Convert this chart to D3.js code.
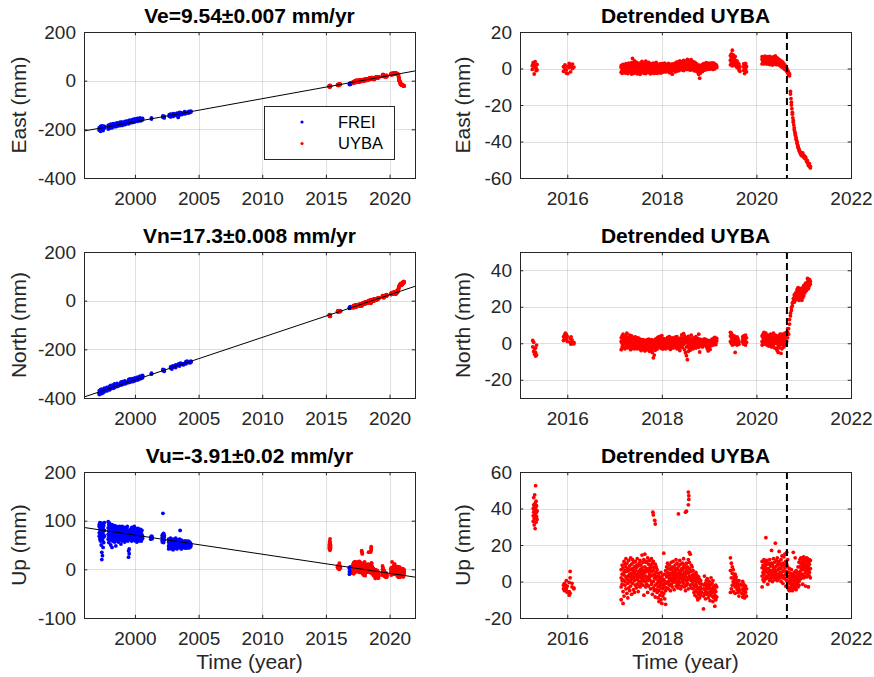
<!DOCTYPE html>
<html>
<head>
<meta charset="utf-8">
<script src="https://cdn.jsdelivr.net/npm/d3@7"></script>
<style>
  body { margin: 0; background: #fff; }
  svg { display: block; }
</style>
</head>
<body>
<svg id="fig" width="874" height="677"></svg>
<script>
// ---------- data ----------
// each row: [time, value, value, ...]  (several daily solutions stacked at one time)

// FREI raw positions (mm)
var freiEast = [
  [1997.2,-204,-193,-199],[1997.3,-208,-196,-188],[1997.4,-201,-192,-186],[1997.5,-198,-187,-205],
  [1997.6,-195,-188],[1997.9,-193,-184,-199],[1998.0,-190,-182,-196],[1998.1,-186,-193,-179],
  [1998.2,-188,-181,-194],[1998.3,-184,-177,-190],[1998.5,-183,-176,-189],[1998.6,-180,-174,-187],
  [1998.8,-178,-171,-185],[1998.9,-176,-183,-170],[1999.0,-178,-170,-184],[1999.2,-175,-168,-181],
  [1999.3,-172,-178,-166],[1999.5,-170,-164,-177],[1999.6,-168,-174,-162],[1999.8,-166,-172,-160],
  [1999.9,-164,-170,-159],[2000.0,-163,-169,-157],[2000.2,-161,-167,-155],[2000.3,-163,-157],
  [2000.4,-165,-159,-153],[2000.5,-158,-164],[2000.6,-161,-155],
  [2001.3,-158,-153],[2002.2,-150,-145],[2002.3,-147,-153],
  [2002.7,-146,-140],[2002.8,-143,-149,-138],[2002.9,-146,-140],[2003.0,-141,-147,-136],
  [2003.1,-143,-137],[2003.3,-139,-144,-134],[2003.4,-137,-151],[2003.5,-135,-141,-130],
  [2003.6,-137,-131],[2003.7,-134,-139],[2003.9,-131,-136,-127],[2004.0,-130,-135],
  [2004.2,-127,-133],[2004.3,-126,-131],[2004.4,-125,-129],
  [2016.85,-12,-16],[2016.9,-14,-10],[2016.95,-11,-15],[2017.0,-10]
];
var freiNorth = [
  [1997.2,-380,-370,-386],[1997.3,-376,-366,-383],[1997.4,-373,-381,-364],[1997.5,-370,-378],
  [1997.6,-367,-374,-360],[1997.8,-363,-371,-356],[1998.0,-359,-367,-352],[1998.1,-355,-362,-348],
  [1998.3,-354,-346,-360],[1998.4,-357,-349,-342],[1998.6,-346,-353,-340],[1998.7,-344,-351],
  [1998.9,-341,-347,-335],[1999.0,-339,-345,-333],[1999.2,-336,-342,-330],[1999.3,-334,-340],
  [1999.5,-331,-337,-325],[1999.6,-335,-328,-322],[1999.8,-327,-333,-320],[1999.9,-325,-331],
  [2000.0,-323,-329,-317],[2000.2,-320,-326,-314],[2000.3,-318,-323],[2000.4,-316,-321,-310],
  [2000.5,-314,-319],[2000.6,-312,-317,-307],
  [2001.3,-302,-298],[2002.2,-287,-282],[2002.3,-285,-290],
  [2002.8,-277,-272],[2002.9,-275,-270,-281],[2003.0,-273,-268],[2003.2,-269,-264,-275],
  [2003.4,-266,-261],[2003.5,-264,-269,-259],[2003.6,-262,-257],[2003.8,-259,-264],
  [2004.0,-256,-260,-251],[2004.1,-254,-249],[2004.3,-251,-256],[2004.4,-249,-253],
  [2016.85,-32,-28],[2016.9,-30,-26],[2016.95,-29,-25],[2017.0,-27]
];
var freiUp = [
  [1997.20,75,88,68,92],[1997.25,82,70,96,62],[1997.30,78,90,58,85],[1997.35,66,95,72,50],
  [1997.40,20,35,80,88],[1997.45,28,74,92,60],[1997.50,85,65,77,45],[1997.55,70,90,55],
  [1997.60,80,68,96],[1997.90,85,72,98,62],[1997.95,78,92,66,55],[1998.00,88,70,80,95],
  [1998.05,74,60,84],[1998.10,82,68,90,50],[1998.15,72,86,62],[1998.20,78,92,66,45],
  [1998.25,70,84,58],[1998.30,80,66,88,74],[1998.35,75,62,85],[1998.40,68,82,56,90],
  [1998.45,77,64,86],[1998.50,72,84,60,48],[1998.55,80,68,88],[1998.60,66,78,58,85],
  [1998.65,74,62,82],[1998.70,70,86,56,76],[1998.75,78,64,84],[1998.80,68,80,60,88],
  [1998.85,74,66,82],[1998.90,62,78,70,52],[1998.95,76,64,84],[1999.00,70,82,58,88],
  [1999.05,66,78,72],[1999.10,74,60,84,68],[1999.15,70,80,62],[1999.20,64,76,86,56],
  [1999.25,72,66,80],[1999.30,68,78,60,84],[1999.35,74,64,82],[1999.40,70,60,78,88],
  [1999.45,66,76,58],[1999.50,25,38,70,80],[1999.55,32,42,66,76],[1999.60,64,76,70],
  [1999.65,72,82,62,68],[1999.70,72,62,82],[1999.75,68,78,58,86],[1999.80,74,64,80],
  [1999.85,66,76,60,84],[1999.90,70,62,80],[1999.95,64,76,68,88],[2000.00,72,60,80],
  [2000.05,66,78,58,84],[2000.10,70,62,76],[2000.15,64,82,72,56],[2000.20,68,76,60],
  [2000.25,74,62,84,66],[2000.30,70,58,78],[2000.35,64,80,72,60],[2000.40,68,76,62],
  [2000.45,72,60,82,66],[2000.50,66,74,58],[2000.55,70,62,80],[2000.60,68,64],
  [2001.25,66,62],[2001.30,68,64],[2001.35,63,67],
  [2002.15,60,70,66,56],[2002.20,72,64,58,115],[2002.25,62,74,68,55],[2002.30,66,60,70],
  [2002.65,56,48,62,42],[2002.70,52,60,45],[2002.80,58,50,64,46],[2002.85,54,44,60],
  [2002.90,50,58,42,62],[2002.95,56,48,52],[2003.00,60,46,54,40],[2003.05,52,58,48],
  [2003.10,56,44,62,50],[2003.15,48,54,60],[2003.20,52,58,44,64],[2003.25,56,50,46],
  [2003.30,60,48,54,42],[2003.40,52,58,46],[2003.50,54,62,48],[2003.55,80,56,44,60],
  [2003.60,58,46,52],[2003.65,54,60,48,42],[2003.70,50,56,46],[2003.85,52,46,58],
  [2003.90,48,54,44,56],[2003.95,52,58,46],[2004.00,50,44,56,48],[2004.05,54,48,58],
  [2004.10,46,52,56,44],[2004.15,50,56,48],[2004.20,54,46,52,58],[2004.25,48,52,44],
  [2004.30,52,56,48],[2004.35,50,46,54],[2004.40,52,48],
  [2016.85,-5,2,-10,4],[2016.90,0,-8,3],[2016.95,-3,5,-7],[2017.00,-2,1]
];

// detrended UYBA (mm)
var eastDet = [
  [2015.26,1.5,-0.5],[2015.28,3.2,2.5],[2015.30,0.8,-3.0],[2015.32,1.9,3.8],
  [2015.34,-1.2,0.3],[2015.36,2.2,-0.8],
  [2015.92,1.0,-1.5],[2015.95,2.0,0.2],[2015.98,-2.5,-0.8],[2016.01,1.2,-2.8],
  [2016.04,2.8,0.5],[2016.07,-1.8,1.5],[2016.11,0.0,2.4],[2016.14,0.8],
  [2017.14,-2.0,0.5,1.5],[2017.16,-1.0,1.8,-2.6],[2017.18,0.3,-1.8,2.2],[2017.20,-0.5,1.0,-2.2],
  [2017.22,1.4,-1.2,0.2],[2017.24,-2.5,0.8,2.6],[2017.26,0.0,-1.5,1.2],[2017.28,2.0,-0.8,-2.8],
  [2017.30,0.6,-2.0,3.0],[2017.32,-1.0,1.5,0.1],[2017.34,2.4,-2.3,0.9],[2017.36,-0.6,3.2,-3.0],
  [2017.38,1.2,-1.6,5.5],[2017.40,0.4,-2.7,2.8],[2017.42,-1.2,1.9,4.2],[2017.44,0.8,-2.2,2.5],
  [2017.46,-0.3,3.5,-1.6],[2017.48,1.6,-2.9,0.2],[2017.50,-1.4,2.2,0.9],[2017.52,0.3,-2.4,3.0],
  [2017.54,1.9,-0.9,-3.2],[2017.56,-1.8,0.7,2.6],[2017.58,0.0,3.9,-2.0],[2017.60,1.3,-1.2,2.1],
  [2017.62,-2.6,0.5,1.6],[2017.64,2.8,-0.4,-1.5],[2017.66,0.9,-2.8,4.0],[2017.68,-0.8,1.7,-2.1],
  [2017.70,2.3,-1.3,0.4],[2017.72,-2.2,0.8,3.4],[2017.74,1.0,-1.9,2.0],[2017.76,-0.2,2.6,-2.9],
  [2017.78,1.4,-1.0,0.3],[2017.80,-2.4,2.0,0.8],[2017.82,0.6,-1.6,2.9],[2017.84,-1.1,1.2,-2.7],
  [2017.86,2.2,-0.5,0.0],[2017.88,-1.8,1.5,3.3],[2017.90,0.4,-2.6,1.8],[2017.92,1.9,-1.0,-0.3],
  [2017.94,-2.2,0.9,2.4],[2017.96,0.2,-1.7,1.3],[2017.98,2.6,-0.6,-2.5],[2018.00,-1.3,1.1,0.5],
  [2018.02,0.8,-2.0,2.7],[2018.04,-0.4,1.9,-1.4],[2018.06,1.5,-1.1,3.0],[2018.08,-1.9,0.6,2.2],
  [2018.10,0.9,-0.7,1.7],[2018.12,2.1,-1.6,0.2],[2018.14,-0.9,1.4,2.8],[2018.16,0.5,-2.3,1.9],
  [2018.18,1.8,-0.2,-1.7],[2018.20,-1.5,2.4,0.7],[2018.22,0.2,1.3,-3.1],[2018.24,2.5,-0.9,1.0],
  [2018.26,-1.0,0.4,2.0],[2018.28,1.2,3.0,-1.9],[2018.30,0.0,2.2,-0.8],[2018.32,1.7,-1.4,3.6],
  [2018.34,0.6,2.8,-0.5],[2018.36,3.2,1.0,-1.2],[2018.38,-0.3,2.0,4.1],[2018.40,1.4,3.3,0.1],
  [2018.42,2.6,-0.7,1.8],[2018.44,0.3,3.8,1.1],[2018.46,2.0,-1.1,4.5],[2018.48,1.2,3.0,-0.2],
  [2018.50,0.7,2.4,4.0],[2018.52,3.5,-0.6,1.6],[2018.54,1.0,2.9,5.0],[2018.56,-0.4,1.9,3.3],
  [2018.58,2.7,0.5,4.4],[2018.60,1.5,-0.9,3.1],[2018.62,4.8,0.9,2.2],[2018.64,-0.5,2.6,1.3],
  [2018.66,3.8,0.2,1.9],[2018.68,1.1,-1.2,2.8],[2018.70,0.3,3.4,-0.6],[2018.72,2.0,-1.4,1.0],
  [2018.74,-0.8,1.6,2.5],[2018.76,0.9,-2.1,0.4],[2018.78,-1.5,1.2,-3.2],[2018.80,0.2,-5.3,1.9],
  [2018.82,-2.4,0.7,-0.8],[2018.84,1.3,-1.0,0.3],[2018.86,0.5,2.1,-1.6],[2018.88,-0.2,1.0,2.6],
  [2018.90,1.8,0.0,-0.9],[2018.92,0.7,2.8,1.3],[2018.94,-0.6,1.6,3.2],[2018.96,2.2,0.3,1.0],
  [2018.98,0.9,2.5,-0.4],[2019.00,1.5,3.0,0.2],[2019.02,-0.3,1.9,2.4],[2019.04,2.6,0.6,1.2],
  [2019.06,0.1,1.8,3.1],[2019.08,1.2,-0.5,2.0],[2019.10,2.9,0.8,1.5],[2019.12,0.4,1.6,-0.2],
  [2019.14,1.9,0.9,2.3],[2019.16,0.6,1.4],
  [2019.45,2.0,4.5,7.0],[2019.47,3.2,8.0,5.5],[2019.49,1.5,6.2,10.0],[2019.51,4.0,2.5,7.5],
  [2019.53,3.0,5.8,1.8],[2019.55,4.6,2.2,6.6],[2019.57,1.2,3.6],[2019.59,2.8,0.5,4.2],
  [2019.61,1.6,3.0],[2019.63,0.2,2.4,-0.8],[2019.65,1.0,-1.5],
  [2019.73,0.8,2.5,-1.0],[2019.75,2.0,-2.8,1.4],[2019.77,-0.5,2.8,0.3],[2019.79,1.1,-1.8],
  [2020.12,2.5,5.0,6.5],[2020.14,4.0,3.0,6.2],[2020.16,5.4,2.6,4.4],[2020.18,3.2,6.8,4.9],
  [2020.20,5.8,2.9,4.0],[2020.22,3.6,6.0,2.4],[2020.24,4.8,3.1,6.5],[2020.26,2.7,5.2,4.1],
  [2020.28,6.6,3.8,2.2],[2020.30,4.5,5.9,3.0],[2020.32,2.6,4.2,6.1],[2020.34,5.0,3.4,1.9],
  [2020.36,6.3,4.0,2.8],[2020.38,3.0,5.5,4.6],[2020.40,4.9,2.4,6.9],[2020.42,3.7,5.6,2.1],
  [2020.44,4.4,3.2,5.8],[2020.46,2.5,4.7],[2020.48,3.9,1.8,5.0],[2020.50,3.0,4.5],
  [2020.52,2.2,3.6,1.0],[2020.54,3.9,2.4],[2020.56,1.6,3.2,0.4],[2020.58,2.6,1.0],
  [2020.60,0.5,1.9,-0.5],[2020.62,1.2,-0.4],[2020.64,0.2,-1.5],[2020.66,-1.0,-2.5],
  [2020.68,-2.0,-3.5],[2020.70,-3.0,-4.0],
  [2020.72,-12.5,-14.0],[2020.73,-16.5],[2020.74,-18.5,-20.0],[2020.75,-22.0],
  [2020.76,-24.0,-25.0],[2020.77,-27.0],[2020.78,-28.5,-29.5],[2020.79,-31.0],
  [2020.80,-32.5,-33.5],[2020.81,-34.5],[2020.82,-35.5,-36.5],[2020.83,-37.0],
  [2020.84,-38.0,-38.8],[2020.85,-39.5],[2020.86,-40.2,-41.0],[2020.87,-41.8],
  [2020.88,-42.5,-43.2],[2020.89,-43.8],[2020.90,-44.2,-45.0],[2020.92,-45.5,-46.2],
  [2020.94,-46.0,-47.2],[2020.96,-46.5,-47.8],[2020.98,-47.0,-46.2],[2021.00,-47.6,-48.5],
  [2021.02,-48.0,-49.2],[2021.04,-49.5,-48.6],[2021.06,-50.2,-51.0],[2021.08,-51.5,-50.5],
  [2021.10,-52.5,-53.2],[2021.12,-53.5,-52.2],[2021.14,-54.5,-53.6]
];
var northDet = [
  [2015.27,-2.0,1.5],[2015.29,-4.5,0.5],[2015.31,-3.0,-6.0],[2015.33,-5.0,-2.5,-7.0],[2015.35,-6.5,-1.0],
  [2015.92,1.5,3.5],[2015.94,4.5,2.0],[2015.96,5.5,3.0],[2015.98,2.5,4.8],[2016.00,1.0,3.8],
  [2016.06,2.5,0.5],[2016.08,3.5,-0.5],[2016.10,0.2,1.8],[2016.14,-0.3,0.4],
  [2017.14,-3.5,1.0,3.0],[2017.16,0.0,4.0,-2.0],[2017.18,2.5,-1.0,5.0],[2017.20,-2.5,1.5,3.5],
  [2017.22,0.5,-3.0,2.0],[2017.24,4.0,-0.5,1.0],[2017.26,-1.5,2.5,5.5],[2017.28,1.0,-2.5,3.0],
  [2017.30,3.5,0.0,-1.0],[2017.32,-2.0,2.0,4.5],[2017.34,0.5,-3.5,1.5],[2017.36,2.8,-1.2,4.0],
  [2017.38,-0.5,1.8,-2.8],[2017.40,3.2,0.2,-1.8],[2017.42,1.2,-3.0,2.4],[2017.44,-1.0,3.5,0.6],
  [2017.46,2.0,-2.2,0.0],[2017.48,-3.0,1.0,2.8],[2017.50,0.8,-1.6,3.0],[2017.52,-2.4,1.4,-0.4],
  [2017.54,0.2,-3.2,2.2],[2017.56,-1.2,1.8,-4.0],[2017.58,1.0,-2.0,0.4],[2017.60,-3.4,0.0,2.0],
  [2017.62,-0.8,1.6,-2.6],[2017.64,0.6,-4.2,-1.4],[2017.66,-2.2,1.2,0.0],[2017.68,1.8,-1.0,-3.6],
  [2017.70,-0.4,-2.8,1.0],[2017.72,-3.0,0.8,2.2],[2017.74,0.2,-1.8,-4.4],[2017.76,-1.4,1.4,-2.4],
  [2017.78,0.6,-3.6,2.0],[2017.80,-5.0,-1.0,1.2],[2017.82,-2.6,0.2,-8.0],[2017.84,-6.5,-0.6,1.6],
  [2017.86,-1.8,2.2,-3.8],[2017.88,0.0,-2.6,1.0],[2017.90,2.8,-1.2,-3.2],[2017.92,-0.4,1.6,3.4],
  [2017.94,-2.0,0.6,2.4],[2017.96,1.4,-1.2,3.8],[2017.98,-2.8,0.2,2.0],[2018.00,1.0,-1.6,4.2],
  [2018.02,-3.2,0.4,2.6],[2018.04,1.8,-0.8,-2.4],[2018.06,-1.4,2.4,0.0],[2018.08,0.6,-3.0,1.6],
  [2018.10,-0.6,2.0,-2.0],[2018.12,1.2,-1.4,3.2],[2018.14,-2.6,0.2,1.8],[2018.16,0.8,-1.8,3.6],
  [2018.18,-1.0,2.6,-3.4],[2018.20,1.6,-0.2,-2.2],[2018.22,-1.8,0.8,3.0],[2018.24,2.2,-2.6,0.4],
  [2018.26,-0.4,1.4,-1.6],[2018.28,3.4,-1.2,0.6],[2018.30,-2.2,1.0,2.8],[2018.32,0.0,-3.0,3.6],
  [2018.34,1.8,-1.6,-0.4],[2018.36,-2.6,2.4,0.8],[2018.38,1.2,-0.8,-4.0],[2018.40,3.0,0.2,-2.0],
  [2018.42,-1.2,1.6,4.6],[2018.44,0.6,-2.4,2.8],[2018.46,5.2,-0.6,1.4],[2018.48,-3.6,2.0,4.0],
  [2018.50,0.2,-5.2,3.2],[2018.52,-2.0,1.4,-6.8],[2018.54,-9.0,0.4,2.6],[2018.56,-4.4,-1.2,3.8],
  [2018.58,1.0,-2.8,0.0],[2018.60,-0.8,2.4,-3.8],[2018.62,1.6,-1.6,4.4],[2018.64,-2.4,0.6,2.0],
  [2018.66,3.0,-0.4,-3.0],[2018.68,0.8,-2.0,1.8],[2018.70,-1.0,2.8,0.4],[2018.72,1.4,-2.6,3.6],
  [2018.74,-0.2,1.2,-1.6],[2018.76,2.6,-1.0,0.6],[2018.78,-2.2,0.4,5.0],[2018.80,1.0,-4.8,2.2],
  [2018.82,-0.6,1.8,0.0],[2018.84,2.0,-1.4,0.8],[2018.86,0.4,-2.0,1.6],[2018.90,0.0,2.4,-1.0],
  [2018.92,1.2,-0.6],[2018.94,-1.8,0.8,2.0],[2018.96,0.2,-3.0],[2018.98,1.4,-1.2,-4.2],
  [2019.00,0.6,-2.4],[2019.02,-0.4,1.6,-3.4],[2019.04,1.0,-1.4],[2019.06,2.2,-0.2,0.8],
  [2019.08,-1.0,1.4],[2019.10,0.4,2.8,-0.6],[2019.12,1.6,3.2],[2019.14,0.2,2.0,-0.8],[2019.16,1.2,2.6],
  [2019.45,1.0,4.0,6.0],[2019.47,3.0,0.0,5.5],[2019.49,2.0,-1.0,4.5],[2019.51,0.5,3.5,1.5],
  [2019.53,2.5,-0.5,4.0],[2019.55,-5.0,1.0,3.0],[2019.57,0.0,2.0],[2019.59,1.5,-1.0,3.5],
  [2019.61,0.5,2.5],[2019.63,-0.5,1.0],
  [2019.71,2.0,0.5,3.5],[2019.73,4.0,1.0,-0.5],[2019.75,2.5,0.0,3.0],[2019.77,1.0,4.5,-1.0],[2019.79,3.0,0.5],
  [2020.12,1.0,4.0,-1.0],[2020.14,3.0,0.0,5.0],[2020.16,2.0,6.0,-0.5],[2020.18,4.5,1.5,3.0],
  [2020.20,0.5,3.5,5.5],[2020.22,2.5,-1.0,4.0],[2020.24,1.0,3.0,0.0],[2020.26,4.5,2.0,-1.5],
  [2020.28,0.5,3.5,1.5],[2020.30,2.5,-0.5,5.0],[2020.32,1.5,4.0,-2.0],[2020.34,3.0,0.0,2.0],
  [2020.36,-1.0,5.5,1.0],[2020.38,2.0,-2.5,3.5],[2020.40,0.5,4.5,1.5],[2020.42,-3.0,2.0,0.0],
  [2020.44,1.5,-4.0,3.0],[2020.46,-1.5,4.0,-5.0],[2020.48,0.5,2.5,-2.5],[2020.50,5.0,-1.0,1.5],
  [2020.52,-5.5,0.0,3.5],[2020.54,2.0,-3.0,5.0],[2020.56,-1.0,3.0,0.5],[2020.58,1.5,-2.0,4.0],
  [2020.60,0.0,2.5,5.5],[2020.62,-1.0,3.5],[2020.64,1.0,6.0],
  [2020.66,3.0,6.0,8.0],[2020.68,8.0,5.0],[2020.70,10.5,13.0],[2020.72,15.0,16.5],
  [2020.74,18.0,19.5],[2020.76,20.5,22.0],[2020.78,23.0,24.5],[2020.80,25.0,26.5,22.5],
  [2020.82,25.0,27.0,23.5],[2020.84,26.5,28.0,24.5],[2020.86,27.5,29.5,25.0],[2020.88,28.0,30.5,24.0],
  [2020.90,26.5,29.0,23.5],[2020.92,25.0,28.5,30.0],[2020.94,24.5,27.0,29.5],[2020.96,26.0,23.5,28.0],
  [2020.98,27.5,25.0,30.5],[2021.00,29.0,26.0,31.5],[2021.02,30.0,27.5,32.0],[2021.04,28.5,31.0,33.0],
  [2021.06,30.5,32.5,29.0],[2021.08,33.5,31.0,35.5],[2021.10,32.0,34.5,30.0],[2021.12,33.0,35.0,31.5],
  [2021.14,32.5,34.0]
];
var upDet = [
  [2015.28,36.0,40.0,33.0],[2015.29,42.0,38.0,46.0],[2015.30,34.5,39.5,31.0],[2015.31,41.0,36.5,47.5],
  [2015.32,38.0,43.0,29.0],[2015.33,35.0,40.5,52.5],[2015.34,37.5,32.5,44.0],[2015.35,39.0,35.5,41.5],
  [2015.36,38.5,34.0],
  [2015.92,-2.0,-4.0],[2015.94,-1.0,-3.5,-5.0],[2015.96,-3.0,-2.0],[2015.98,-5.0,-4.0,0.5],
  [2016.00,-6.0,-2.5],[2016.04,-0.5,-7.5,-5.5],[2016.06,5.5,2.0,-6.5],[2016.10,-1.0,-3.0],[2016.14,-4.0,-3.5],
  [2017.14,-10.0,2.0,6.5,-3.0],[2017.16,4.0,-1.5,9.0,0.5],[2017.18,-5.5,7.5,1.0,-12.0],[2017.20,3.5,-8.0,11.0,5.0],
  [2017.22,-2.0,6.0,0.0,9.5],[2017.24,8.0,-4.0,2.5,12.5],[2017.26,1.5,-6.5,5.5,10.0],[2017.28,-1.0,7.0,3.0,-9.0],
  [2017.30,6.0,11.5,-3.5,0.5],[2017.32,2.5,-5.0,8.5,4.0],[2017.34,13.0,0.0,-2.5,6.5],[2017.36,-7.0,4.5,9.5,1.5],
  [2017.38,3.0,12.0,-1.0,7.0],[2017.40,5.5,-4.5,10.5,2.0],[2017.42,0.5,8.0,-6.0,4.5],[2017.44,11.0,2.5,-2.0,6.0],
  [2017.46,-3.5,7.5,3.5,9.0],[2017.48,4.0,-1.5,12.5,1.0],[2017.50,8.5,2.0,-5.5,5.5],[2017.52,0.0,10.0,3.0,-2.5],
  [2017.54,6.5,-3.0,4.5,11.5],[2017.56,2.0,9.0,-1.0,5.0],[2017.58,14.5,3.5,0.5,7.5],[2017.60,-2.0,6.0,10.5,2.5],
  [2017.62,4.5,12.0,-7.5,1.0],[2017.64,8.0,0.0,5.0,15.0],[2017.66,3.0,10.5,-3.0,6.5],[2017.68,-1.5,7.0,2.0,11.0],
  [2017.70,5.5,13.0,0.5,-6.0],[2017.72,9.5,2.5,6.0,-2.5],[2017.74,1.0,11.5,4.0,7.5],[2017.76,6.5,-4.0,9.0,3.0],
  [2017.78,12.5,0.0,5.5,-1.5],[2017.80,3.5,8.0,-7.0,10.0],[2017.82,0.0,6.0,11.0,-3.5],[2017.84,7.5,2.0,-5.0,4.0],
  [2017.86,-2.0,9.5,1.5,-8.5],[2017.88,5.0,-4.5,3.0,8.0],[2017.90,-1.0,2.5,-6.0,6.5],[2017.92,3.0,-9.0,0.5,-3.0],
  [2017.94,-5.0,1.0,-11.0,4.5],[2017.96,0.0,-7.5,2.5,-2.0],[2017.98,-3.5,5.0,-10.0,-1.0],[2018.00,2.0,-6.0,-12.0,0.5],
  [2018.02,-4.0,3.5,-8.0,-1.5],[2018.04,15.5,-2.5,1.0,-6.5],[2018.06,-9.5,0.0,4.0,-3.0],[2018.08,-1.0,6.0,-5.0,-12.5],
  [2018.10,2.5,-3.5,8.0,-0.5],[2018.12,5.0,-1.0,3.0,10.0],[2018.14,0.0,7.0,-4.0,4.0],[2018.16,3.5,-2.0,9.0,1.5],
  [2018.18,6.5,0.5,-5.0,4.5],[2018.20,2.0,10.5,-1.5,7.0],[2018.22,-3.0,4.0,8.0,0.5],[2018.24,5.5,-0.5,11.0,2.5],
  [2018.26,1.0,7.5,-4.5,4.0],[2018.28,9.0,3.0,0.0,6.0],[2018.30,-2.5,5.0,12.0,1.5],[2018.32,4.0,-1.0,7.0,10.0],
  [2018.34,2.5,6.5,-3.5,0.0],[2018.36,8.5,1.0,4.5,-2.0],[2018.38,3.0,11.5,-0.5,6.0],[2018.40,-4.0,5.5,2.0,9.5],
  [2018.42,1.5,7.0,-2.5,4.0],[2018.44,10.0,3.5,0.0,6.5],[2018.46,-1.0,8.0,2.5,12.5],[2018.48,5.0,-3.0,9.0,1.0],
  [2018.50,3.0,7.5,-5.0,4.5],[2018.52,0.5,10.0,6.0,-2.0],[2018.54,8.0,2.0,-1.0,5.0],[2018.56,4.5,12.0,1.0,-4.0],
  [2018.58,16.0,7.0,3.0,10.5],[2018.60,2.0,15.0,-2.0,6.0],[2018.62,9.0,0.5,5.5,-3.5],[2018.64,3.5,-1.5,8.0,1.0],
  [2018.66,-4.0,6.0,0.0,2.5],[2018.68,1.5,-6.0,4.0,-2.0],[2018.70,-3.0,3.0,-7.5,0.5],[2018.72,5.0,-1.5,-5.0,2.0],
  [2018.74,-2.5,0.0,-8.5,3.5],[2018.76,-6.0,1.5,-3.5,-10.0],[2018.78,0.0,-4.0,2.5,-7.0],[2018.80,-5.5,-1.0,-9.0,1.0],
  [2018.82,-3.0,-7.5,0.5,-4.5],[2018.84,-1.5,-6.0],[2018.88,-15.0,-4.0,-8.0],[2018.90,-2.0,-6.5,3.0],
  [2018.92,-5.0,-1.0,-9.5],[2018.94,-3.5,0.5,-7.0],[2018.96,-6.0,-2.5,1.5],[2018.98,-4.0,-9.0,-1.5],
  [2019.00,-7.5,0.0,-3.0],[2019.02,-2.0,-5.5,-10.5],[2019.04,-6.5,2.0,-4.0],[2019.06,-1.0,-8.0,-5.0],
  [2019.08,-3.5,-11.0,0.5],[2019.10,-6.0,-2.5,-9.0],[2019.12,-4.5,-7.5,-13.5],[2019.14,-2.0,-10.0,-5.5],
  [2019.16,-8.5,-3.0],
  [2017.81,38.0],[2017.82,36.5],[2017.85,33.5],[2017.86,31.5],[2018.35,37.0],
  [2018.50,38.0],[2018.52,38.5],[2018.56,42.0,49.0],[2018.57,47.0,45.0],
  [2019.45,13.0,6.0,-6.0],[2019.47,10.0,2.0,-4.0],[2019.49,4.5,-2.0,8.0],[2019.51,0.0,6.5,-5.5],
  [2019.53,3.0,-1.0,1.5],[2019.55,-3.0,4.0,-6.5],[2019.57,1.0,-2.5,2.5],[2019.59,-4.5,-1.0,0.0],
  [2019.61,-6.0,-2.0],[2019.63,-3.5,-8.0,0.5],[2019.65,-5.0,-1.5],[2019.69,-2.0,-6.5],
  [2019.71,-4.0,-8.5,0.0],[2019.73,-1.5,-7.0,-5.0],[2019.75,-3.0,-9.0,-4.5],[2019.77,-6.0,-2.5],[2019.79,-8.0,-4.0],
  [2020.12,3.0,7.5,-3.0,11.0],[2020.14,5.0,9.0,1.0],[2020.16,12.0,4.0,6.5,0.0],[2020.18,8.0,2.0,10.5],
  [2020.20,24.0,5.5,1.5,9.0],[2020.22,7.0,3.0,11.5],[2020.24,2.0,9.5,5.0,-1.5],[2020.26,10.0,4.5,7.0],
  [2020.28,3.5,12.0,0.5,6.0],[2020.30,8.5,1.5,5.5],[2020.32,17.0,6.0,2.5,10.0],[2020.34,4.0,9.0,0.0],
  [2020.36,7.5,2.0,12.5,5.0],[2020.38,10.5,3.5,6.5],[2020.40,21.0,5.0,8.0,1.0],[2020.42,2.5,11.5,6.0],
  [2020.44,9.0,4.0,13.0,0.5],[2020.46,6.5,1.5,10.0],[2020.48,16.5,3.0,7.5,11.0],[2020.50,5.0,9.5,2.0],
  [2020.52,12.0,0.0,7.0,4.0],[2020.54,8.5,3.5,14.0],[2020.56,2.0,10.0,5.5,-1.0],[2020.58,6.0,13.5,3.0],
  [2020.60,9.0,15.0,1.5,7.5],[2020.62,4.0,11.0,-2.5],[2020.64,16.0,5.5,9.5,0.5],[2020.66,2.5,8.0,-3.0,12.0],
  [2020.68,0.0,5.0,-4.5,3.0],[2020.70,7.0,-1.0,2.0,-5.0],[2020.72,1.5,-3.5,4.5,0.0],[2020.74,-2.0,3.0,-4.0,6.5],
  [2020.76,0.5,-5.0,2.5,-1.5],[2020.78,4.0,-2.5,1.0,16.0],[2020.80,-1.0,2.0,-4.0,5.0],[2020.82,3.0,-3.0,0.5,13.0],
  [2020.84,-2.0,1.5,6.0,-4.5],[2020.86,0.0,4.5,-1.5,2.5],[2020.88,3.5,-3.0,8.0,1.0],[2020.90,5.0,0.0,10.5,-2.0],
  [2020.92,8.0,2.5,12.0,4.5],[2020.94,6.0,10.0,1.5,13.0],[2020.96,9.5,3.5,12.5,7.0],[2020.98,4.0,11.0,-1.5,8.5],
  [2021.00,10.0,6.5,13.5,2.0],[2021.02,7.5,12.0,3.0,9.5],[2021.04,11.5,5.0,8.0,-2.5],[2021.06,2.5,9.0,13.0,6.0],
  [2021.08,10.5,4.0,7.5,12.5],[2021.10,6.0,-3.0,11.0,8.5],[2021.12,9.5,3.0,12.0,5.0],[2021.14,7.0,11.5,2.0]
];

// linear fits drawn in the left column: [[t0, v0], [t1, v1]]
var trendEast  = [[1996, -207], [2022, 40]];
var trendNorth = [[1996, -396], [2022, 59]];
var trendUp    = [[1996, 86], [2022, -16]];

var eventTime = 2020.645;   // dashed line in the detrended panels

var titles = ["Ve=9.54\u00b10.007 mm/yr", "Vn=17.3\u00b10.008 mm/yr", "Vu=-3.91\u00b10.02 mm/yr"];
var compLabels = ["East (mm)", "North (mm)", "Up (mm)"];
var leftYears = [2000, 2005, 2010, 2015, 2020];
var rightYears = [2016, 2018, 2020, 2022];
var legendNames = ["FREI", "UYBA"];

// ---------- layout ----------
var FONT = "'Liberation Sans', Arial, Helvetica, sans-serif";
var INK = "#262626";
var colX = [84, 520], boxW = 331;
var rowY = [32, 252, 472], boxH = 146;
var tickLen = 3.3;
var dotR = 1.9;

var svg = d3.select("#fig");

function flatten(rows) {
  var pts = [];
  rows.forEach(function(r) {
    for (var i = 1; i < r.length; i++) pts.push([r[0], r[i]]);
  });
  return pts;
}

var panels = [
  {row:0, col:0, title:titles[0], ylab:compLabels[0], xdom:[1996,2022], xt:leftYears, ydom:[-400,200], yt:[-400,-200,0,200], frei:freiEast, det:eastDet, trend:trendEast, legend:true},
  {row:1, col:0, title:titles[1], ylab:compLabels[1], xdom:[1996,2022], xt:leftYears, ydom:[-400,200], yt:[-400,-200,0,200], frei:freiNorth, det:northDet, trend:trendNorth},
  {row:2, col:0, title:titles[2], ylab:compLabels[2], xdom:[1996,2022], xt:leftYears, ydom:[-100,200], yt:[-100,0,100,200], frei:freiUp, det:upDet, trend:trendUp},
  {row:0, col:1, title:"Detrended UYBA", ylab:compLabels[0], xdom:[2015,2022], xt:rightYears, ydom:[-60,20], yt:[-60,-40,-20,0,20], det:eastDet, event:true},
  {row:1, col:1, title:"Detrended UYBA", ylab:compLabels[1], xdom:[2015,2022], xt:rightYears, ydom:[-30,50], yt:[-20,0,20,40], det:northDet, event:true},
  {row:2, col:1, title:"Detrended UYBA", ylab:compLabels[2], xdom:[2015,2022], xt:rightYears, ydom:[-20,60], yt:[-20,0,20,40,60], det:upDet, event:true}
];

panels.forEach(drawPanel);

function drawPanel(p) {
  var x0 = colX[p.col], y0 = rowY[p.row];
  var x = d3.scaleLinear().domain(p.xdom).range([x0, x0 + boxW]);
  var y = d3.scaleLinear().domain(p.ydom).range([y0 + boxH, y0]);
  var g = svg.append("g");

  // grid
  g.append("g").selectAll("line").data(p.xt).enter().append("line")
    .attr("x1", function(d) { return Math.round(x(d)) + 0.5; })
    .attr("x2", function(d) { return Math.round(x(d)) + 0.5; })
    .attr("y1", y0).attr("y2", y0 + boxH)
    .attr("stroke", INK).attr("stroke-opacity", 0.15);
  g.append("g").selectAll("line").data(p.yt).enter().append("line")
    .attr("y1", function(d) { return Math.round(y(d)) + 0.5; })
    .attr("y2", function(d) { return Math.round(y(d)) + 0.5; })
    .attr("x1", x0).attr("x2", x0 + boxW)
    .attr("stroke", INK).attr("stroke-opacity", 0.15);

  // points
  var blue = [], red;
  if (p.frei) blue = flatten(p.frei);
  if (p.trend) {
    var tr = d3.scaleLinear().domain([p.trend[0][0], p.trend[1][0]]).range([p.trend[0][1], p.trend[1][1]]);
    // raw UYBA = fitted line + detrended offset
    red = flatten(p.det).map(function(d) { return [d[0], tr(d[0]) + d[1]]; });
  } else {
    red = flatten(p.det);
  }
  g.append("g").selectAll("circle").data(blue).enter().append("circle")
    .attr("cx", function(d) { return x(d[0]); })
    .attr("cy", function(d) { return y(d[1]); })
    .attr("r", dotR).attr("fill", "#0000ff");
  g.append("g").selectAll("circle").data(red).enter().append("circle")
    .attr("cx", function(d) { return x(d[0]); })
    .attr("cy", function(d) { return y(d[1]); })
    .attr("r", dotR).attr("fill", "#ff0000");

  if (p.trend) {
    g.append("line")
      .attr("x1", x(p.trend[0][0])).attr("y1", y(p.trend[0][1]))
      .attr("x2", x(p.trend[1][0])).attr("y2", y(p.trend[1][1]))
      .attr("stroke", "#000").attr("stroke-width", 1);
  }
  if (p.event) {
    g.append("line")
      .attr("x1", x(eventTime)).attr("x2", x(eventTime))
      .attr("y1", y0).attr("y2", y0 + boxH)
      .attr("stroke", "#000").attr("stroke-width", 2)
      .attr("stroke-dasharray", "7,4");
  }

  // axes: labelled bottom/left, bare ticks top/right, all pointing inward
  var fmt = function(d) { return String(d); };
  var ax = [
    g.append("g").attr("transform", "translate(0," + (y0 + boxH) + ")")
      .call(d3.axisBottom(x).tickValues(p.xt).tickFormat(fmt).tickSizeInner(-tickLen).tickSizeOuter(0).tickPadding(13.5)),
    g.append("g").attr("transform", "translate(" + x0 + ",0)")
      .call(d3.axisLeft(y).tickValues(p.yt).tickFormat(fmt).tickSizeInner(-tickLen).tickSizeOuter(0).tickPadding(8)),
    g.append("g").attr("transform", "translate(0," + y0 + ")")
      .call(d3.axisTop(x).tickValues(p.xt).tickFormat("").tickSizeInner(-tickLen).tickSizeOuter(0)),
    g.append("g").attr("transform", "translate(" + (x0 + boxW) + ",0)")
      .call(d3.axisRight(y).tickValues(p.yt).tickFormat("").tickSizeInner(-tickLen).tickSizeOuter(0))
  ];
  ax.forEach(function(a) {
    a.attr("color", INK).attr("font-family", FONT).attr("font-size", 19);
    a.select(".domain").remove();
  });

  g.append("rect")
    .attr("x", x0 + 0.5).attr("y", y0 + 0.5)
    .attr("width", boxW).attr("height", boxH)
    .attr("fill", "none").attr("stroke", INK).attr("stroke-width", 1);

  // title and labels
  g.append("text")
    .attr("x", x0 + boxW / 2).attr("y", y0 - 9)
    .attr("text-anchor", "middle")
    .attr("font-family", FONT).attr("font-size", 21).attr("font-weight", "bold")
    .attr("fill", "#000").text(p.title);

  var lx = p.col == 0 ? 25.5 : 469.5;
  g.append("text")
    .attr("transform", "translate(" + lx + "," + (y0 + boxH / 2) + ") rotate(-90)")
    .attr("text-anchor", "middle")
    .attr("font-family", FONT).attr("font-size", 21)
    .attr("fill", INK).text(p.ylab);

  if (p.row == 2) {
    g.append("text")
      .attr("x", x0 + boxW / 2).attr("y", y0 + boxH + 51)
      .attr("text-anchor", "middle")
      .attr("font-family", FONT).attr("font-size", 21)
      .attr("fill", INK).text("Time (year)");
  }

  if (p.legend) {
    var lg = g.append("g");
    lg.append("rect").attr("x", 264.5).attr("y", 106.5).attr("width", 130).attr("height", 53)
      .attr("fill", "#fff").attr("stroke", INK).attr("stroke-width", 1);
    var cols = ["#0000ff", "#ff0000"];
    legendNames.forEach(function(n, i) {
      var ly = 122 + i * 21.5;
      lg.append("circle").attr("cx", 302).attr("cy", ly).attr("r", 1.6).attr("fill", cols[i]);
      lg.append("text").attr("x", 338).attr("y", ly).attr("dy", "0.35em")
        .attr("font-family", FONT).attr("font-size", 16.5).attr("fill", "#000").text(n);
    });
  }
}
</script>
</body>
</html>
